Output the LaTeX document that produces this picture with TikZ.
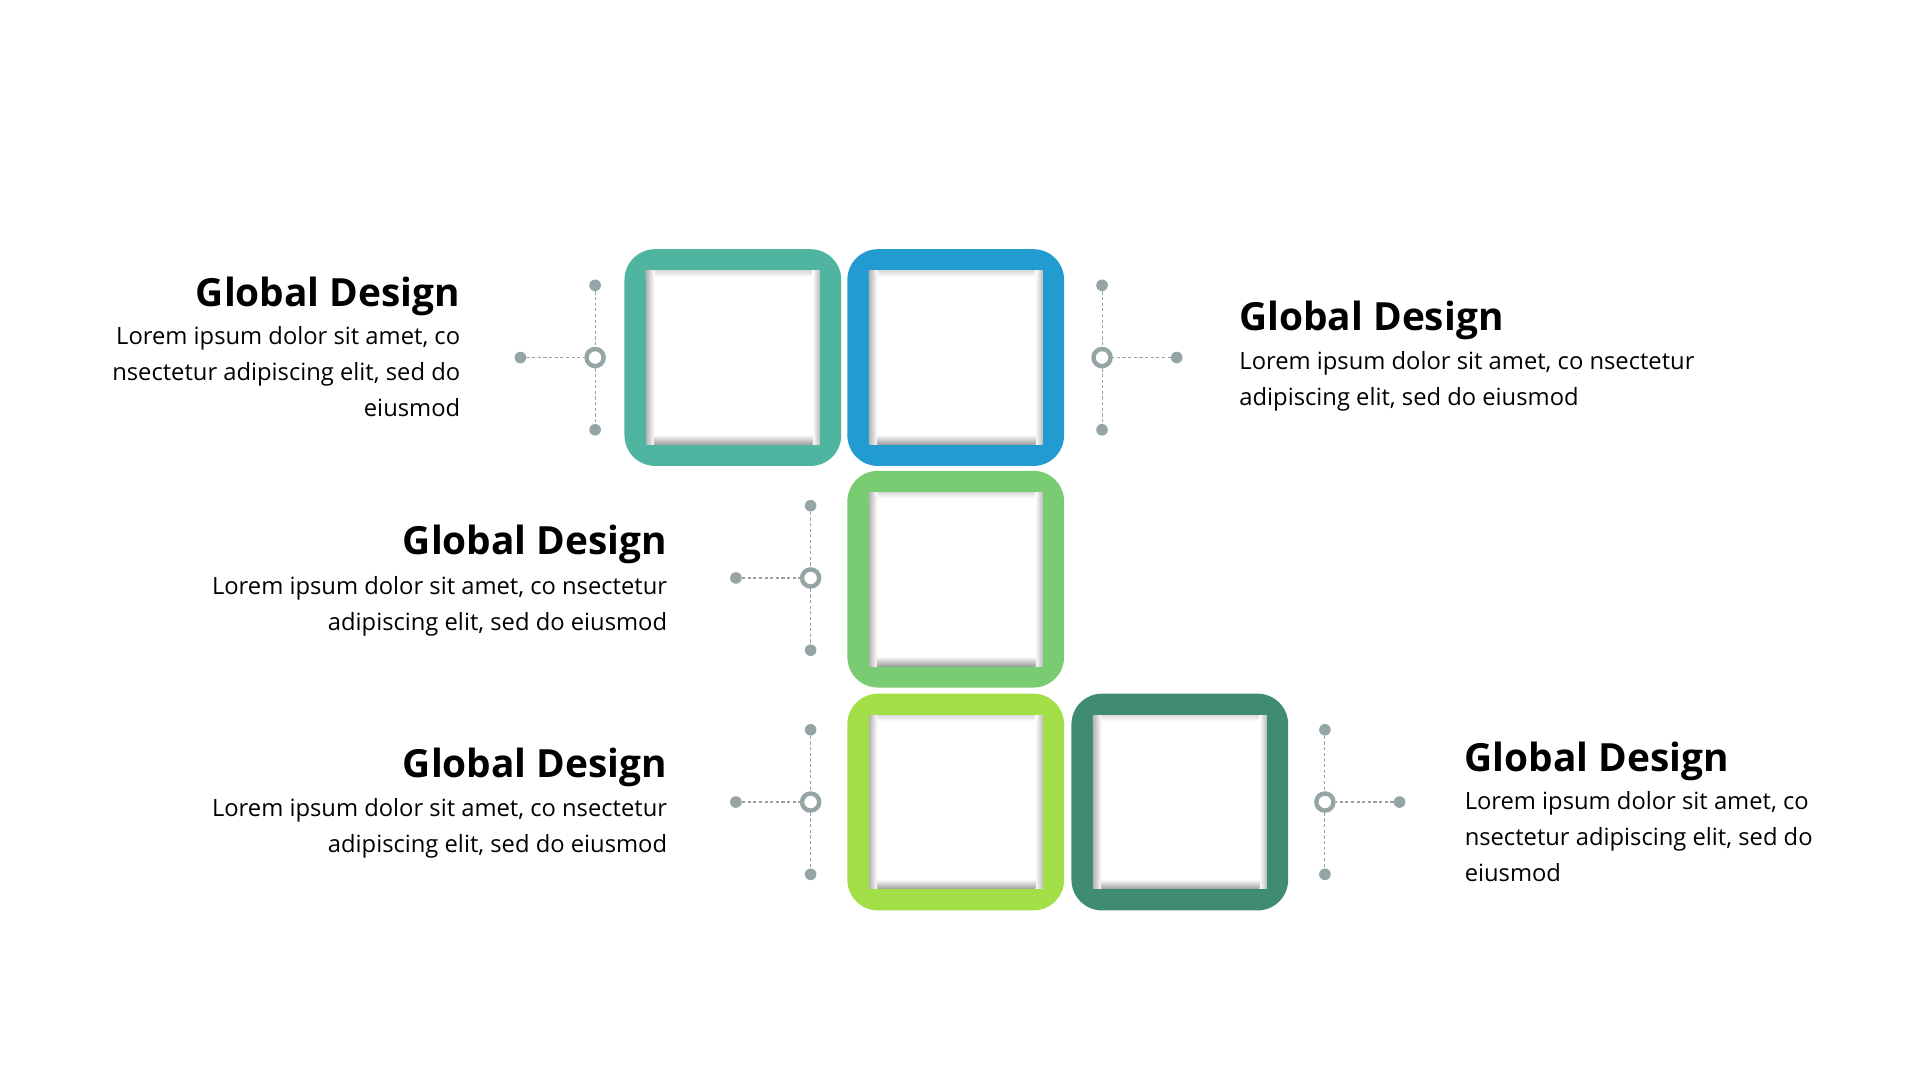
\documentclass[tikz,border=0pt]{standalone}
\usepackage{fontspec}
\setmainfont{Open Sans}
\definecolor{cteal}{HTML}{4FB5A1}
\definecolor{cblue}{HTML}{229BD0}
\definecolor{cgreen}{HTML}{79CC72}
\definecolor{clime}{HTML}{A3E048}
\definecolor{cdark}{HTML}{3F8C71}
\definecolor{cgray}{HTML}{95A5A6}
\tikzset{
  ringbox/.style={fill=#1, draw=none, rounded corners=25pt, minimum width=177pt, minimum height=177pt, inner sep=0pt},
  innersq/.style={fill=white, draw=none, minimum width=142pt, minimum height=142pt, inner sep=0pt},
  dotnode/.style={circle, fill=cgray, draw=none, minimum size=9.5pt, inner sep=0pt},
  ringnode/.style={circle, draw=cgray, line width=3.6pt, fill=white, minimum size=14pt, inner sep=0pt},
  dashln/.style={draw=cgray, dashed, dash pattern=on 2.6pt off 2pt, line width=0.9pt},
  headtxt/.style={inner sep=0pt, font=\fontsize{31.7}{36}\selectfont\bfseries, text=black},
  bodytxt/.style={inner sep=0pt, font=\fontsize{19.4}{29.3}\selectfont, text=black},
}
\newcommand{\squarebox}[4]{%
  \node[ringbox=#4] (#1) at (#2,#3) {};
  \node[innersq] (#1in) at (#2,#3) {};
  \shade[top color=black!14, bottom color=white] ({#2-71},{#3-71}) rectangle ({#2+71},{#3-66});
  \shade[left color=black!30, right color=white] ({#2-71},{#3-71}) rectangle ({#2-64},{#3+71});
  \shade[left color=white, right color=black!26] ({#2+65},{#3-71}) rectangle ({#2+71},{#3+71});
  \shade[bottom color=black!38, top color=white] ({#2-64},{#3+71}) rectangle ({#2+65},{#3+63});
}
\begin{document}
\begin{tikzpicture}[x=1pt,y=-1pt]
\useasboundingbox (0,0) rectangle (1568,882);
\fill[white] (0,0) rectangle (1568,882);

% boxes
\squarebox{bA}{598.5}{292}{cteal}
\squarebox{bB}{780.5}{292}{cblue}
\squarebox{bC}{780.5}{473}{cgreen}
\squarebox{bD}{780.5}{655}{clime}
\squarebox{bE}{963.5}{655}{cdark}

% connectors
\foreach \nm/\x/\y/\dx in {cA/486/292/-61, cB/900/292/61, cC/662/472/-61, cD/662/655/-61, cE/1082/655/61}{
  \node[dotnode] (\nm t) at (\x,\y-59) {};
  \node[dotnode] (\nm b) at (\x,\y+59) {};
  \node[dotnode] (\nm s) at (\x+\dx,\y) {};
  \node[ringnode] (\nm r) at (\x,\y) {};
  \draw[dashln] (\nm t) -- (\nm r);
  \draw[dashln] (\nm r) -- (\nm b);
  \draw[dashln] (\nm s) -- (\nm r);
}

% texts (base anchor = last line baseline)
\node[headtxt, anchor=base east] (hA) at (376,250) {Global Design};
\node[bodytxt, anchor=base east, align=right] (tA) at (376,340) {Lorem ipsum dolor sit amet, co\\nsectetur adipiscing elit, sed do\\eiusmod};

\node[headtxt, anchor=base west] (hB) at (1012,270) {Global Design};
\node[bodytxt, anchor=base west, align=left] (tB) at (1012,331) {Lorem ipsum dolor sit amet, co nsectetur\\adipiscing elit, sed do eiusmod};

\node[headtxt, anchor=base east] (hC) at (545,453) {Global Design};
\node[bodytxt, anchor=base east, align=right] (tC) at (545,515) {Lorem ipsum dolor sit amet, co nsectetur\\adipiscing elit, sed do eiusmod};

\node[headtxt, anchor=base east] (hD) at (545,635) {Global Design};
\node[bodytxt, anchor=base east, align=right] (tD) at (545,696) {Lorem ipsum dolor sit amet, co nsectetur\\adipiscing elit, sed do eiusmod};

\node[headtxt, anchor=base west] (hE) at (1196,630) {Global Design};
\node[bodytxt, anchor=base west, align=left] (tE) at (1196,720) {Lorem ipsum dolor sit amet, co\\nsectetur adipiscing elit, sed do\\eiusmod};
\end{tikzpicture}
\end{document}
